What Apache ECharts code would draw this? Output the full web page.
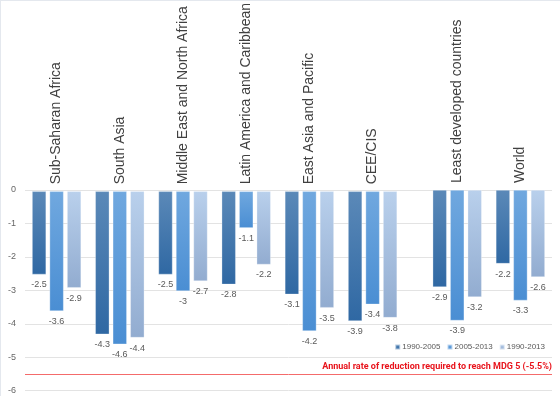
<!DOCTYPE html>
<html><head><meta charset="utf-8">
<script src="https://cdn.jsdelivr.net/npm/echarts@6/dist/echarts.min.js"></script>
<style>html,body{margin:0;padding:0;background:#fff}#c{width:560px;height:396px}</style>
</head><body><div id="c"></div>
<script>
var categoriesLeft = ['Sub-Saharan Africa','South Asia','Middle East and North Africa','Latin America and Caribbean','East Asia and Pacific','CEE/CIS'];
var categoriesRight = ['Least developed countries','World'];
var seriesNames = ['1990-2005','2005-2013','1990-2013'];
var s1990_2005 = [-2.5,-4.3,-2.5,-2.8,-3.1,-3.9,-2.9,-2.2];
var s2005_2013 = [-3.6,-4.6,-3.0,-1.1,-4.2,-3.4,-3.9,-3.3];
var s1990_2013 = [-2.9,-4.4,-2.7,-2.2,-3.5,-3.8,-3.2,-2.6];
var targetRate = -5.5;
var targetLabel = 'Annual rate of reduction required to reach MDG 5 (-5.5%)';
var yTicks = [0,-1,-2,-3,-4,-5,-6];

var FONT = 'Liberation Sans';
var colors = [
  ['#5b89b8','#2f68a3'],
  ['#70a8df','#4a8ed3'],
  ['#b9d0ec','#92acd0']
];
function grad(c){return new echarts.graphic.LinearGradient(0,0,0,1,[{offset:0,color:c[0]},{offset:1,color:c[1]}]);}
var allSeries = [s1990_2005,s2005_2013,s1990_2013];
var nLeft = categoriesLeft.length;

var TOP=190, H=200.7, L=25, R=8, CW=63.2;
var chart = echarts.init(document.getElementById('c'));
var yBase = {type:'value',min:-6,max:0,interval:1};
var series = [];
[0,1].forEach(function(g){
  allSeries.forEach(function(arr,i){
    series.push({
      type:'bar', name:seriesNames[i], xAxisIndex:g+1, yAxisIndex:g+1,
      data: g===0 ? arr.slice(0,nLeft) : arr.slice(nLeft),
      barWidth:14, barGap:'25%',
      itemStyle:{color:grad(colors[i]), borderColor:'rgba(255,255,255,0.6)', borderWidth:0.5},
      label:{show:true, position:'bottom', distance:6, fontSize:9, fontFamily:FONT, color:'#595959',
        formatter:function(p){return String(p.value);}}
    });
  });
});
series.push({
  type:'line', xAxisIndex:0, yAxisIndex:0, data:[], silent:true,
  markLine:{symbol:'none', silent:true,
    lineStyle:{color:'#f46b6b', width:1, type:'solid'},
    label:{show:true, position:'insideEndTop', formatter:targetLabel, color:'#e8141c', fontWeight:'bold', fontSize:9, fontFamily:'Roboto', distance:[0,3]},
    data:[{yAxis:targetRate}]}
});

var catLabel = {rotate:90, margin:7, fontSize:14, color:'#404040', fontFamily:FONT, interval:0, padding:[6,0,0,0]};
chart.setOption({
  animation:false,
  textStyle:{fontFamily:FONT},
  grid:[
    {left:L, right:R, top:TOP, height:H},
    {left:L, width:CW*nLeft, top:TOP, height:H},
    {left:560-R-CW*categoriesRight.length, width:CW*categoriesRight.length, top:TOP, height:H}
  ],
  legend:{data:seriesNames, right:10, top:338, itemWidth:5, itemHeight:5, itemGap:6, icon:'rect',
    textStyle:{fontSize:8, color:'#595959', fontFamily:FONT, padding:[0,0,0,-3]}},
  xAxis:[
    {type:'category', gridIndex:0, data:[''], show:false},
    {type:'category', gridIndex:1, data:categoriesLeft, position:'top', axisLine:{show:false}, axisTick:{show:false}, axisLabel:catLabel},
    {type:'category', gridIndex:2, data:categoriesRight, position:'top', axisLine:{show:false}, axisTick:{show:false}, axisLabel:catLabel}
  ],
  yAxis:[
    Object.assign({gridIndex:0, axisLine:{show:false}, axisTick:{show:false},
      axisLabel:{fontSize:9, color:'#666', margin:9, fontFamily:FONT,
        formatter:function(v){return yTicks.indexOf(v)>=0?String(v):'';}},
      splitLine:{lineStyle:{color:'#e3e3e3', width:1}}}, yBase),
    Object.assign({gridIndex:1, show:false, splitLine:{show:false}}, yBase),
    Object.assign({gridIndex:2, show:false, splitLine:{show:false}}, yBase)
  ],
  graphic:[
    {type:'line', shape:{x1:0,y1:0.5,x2:560,y2:0.5}, style:{stroke:'#e4e8ee', lineWidth:1}, silent:true},
    {type:'line', shape:{x1:0.5,y1:0,x2:0.5,y2:396}, style:{stroke:'#e4e8ee', lineWidth:1}, silent:true}
  ],
  series:series
});
</script></body></html>
